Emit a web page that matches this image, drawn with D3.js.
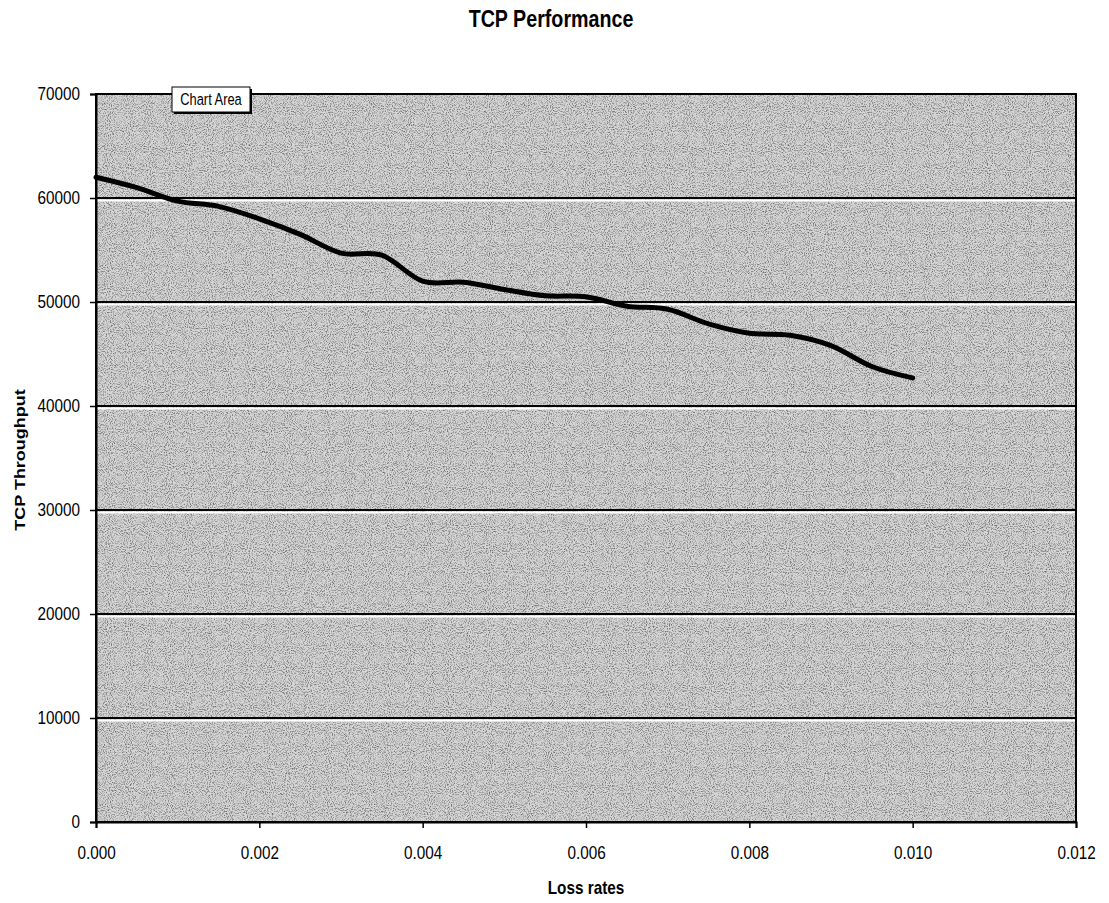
<!DOCTYPE html>
<html>
<head>
<meta charset="utf-8">
<script src="https://cdn.jsdelivr.net/npm/d3@7/dist/d3.min.js"></script>
<style>
  html, body { margin: 0; padding: 0; background: #fff; }
  svg { display: block; }
</style>
</head>
<body>
<svg id="chart" width="1109" height="903"></svg>
<script>
// ---- data ----
const lossRates = [0, 0.0005, 0.001, 0.0015, 0.002, 0.0025, 0.003, 0.0035, 0.004, 0.0045, 0.005,
                   0.0055, 0.006, 0.0065, 0.007, 0.0075, 0.008, 0.0085, 0.009, 0.0095, 0.010];
const throughput = [62000, 61000, 59700, 59200, 58000, 56500, 54700, 54500, 52000, 51900, 51200,
                    50600, 50500, 49600, 49300, 47900, 47000, 46800, 45800, 43800, 42700];
const xTicks = [0, 0.002, 0.004, 0.006, 0.008, 0.010, 0.012];
const yTicks = [0, 10000, 20000, 30000, 40000, 50000, 60000, 70000];
const titleText = "TCP Performance";
const xTitle = "Loss rates";
const yTitle = "TCP Throughput";
const tooltipText = "Chart Area";

// ---- layout ----
const svg = d3.select("#chart");
const L = 96, R = 1076, T = 94, B = 822;
const x = d3.scaleLinear().domain([0, 0.012]).range([L, R]);
const y = d3.scaleLinear().domain([0, 70000]).range([B, T]);
const sans = "'Liberation Sans', Arial, sans-serif";
const SX = 0.85; // horizontal squeeze to mimic a narrow face

// noise texture filter
const defs = svg.append("defs");
const f = defs.append("filter").attr("id", "noise").attr("x", 0).attr("y", 0).attr("width", 1).attr("height", 1);
f.append("feTurbulence").attr("type", "fractalNoise").attr("baseFrequency", 0.95).attr("numOctaves", 2).attr("seed", 3).attr("result", "t");
f.append("feColorMatrix").attr("type", "matrix")
  .attr("values", "0 0 0 0 0  0 0 0 0 0  0 0 0 0 0  0 0 0 -2.6 1.45")
  .attr("result", "a");
f.append("feComposite").attr("in", "a").attr("in2", "SourceGraphic").attr("operator", "in");

// plot background
svg.append("rect").attr("x", L).attr("y", T).attr("width", R - L).attr("height", B - T).attr("fill", "#d6d6d6");
svg.append("rect").attr("x", L).attr("y", T).attr("width", R - L).attr("height", B - T)
  .attr("fill", "#000").attr("filter", "url(#noise)").attr("opacity", 0.5);

// gridlines
const grid = svg.append("g");
yTicks.filter(v => v > 0 && v < 70000).forEach(v => {
  grid.append("line").attr("x1", L).attr("x2", R).attr("y1", y(v) + 2.5).attr("y2", y(v) + 2.5)
    .attr("stroke", "#fff").attr("stroke-width", 2);
  grid.append("line").attr("x1", L).attr("x2", R).attr("y1", y(v)).attr("y2", y(v))
    .attr("stroke", "#000").attr("stroke-width", 2);
});

// border
svg.append("rect").attr("x", L).attr("y", T).attr("width", R - L).attr("height", B - T)
  .attr("fill", "none").attr("stroke", "#000").attr("stroke-width", 2);

// axes
const yAxis = svg.append("g").attr("transform", `translate(${L},0)`)
  .call(d3.axisLeft(y).tickValues(yTicks).tickFormat(d3.format("d")).tickSize(6).tickPadding(10));
const xAxis = svg.append("g").attr("transform", `translate(0,${B})`)
  .call(d3.axisBottom(x).tickValues(xTicks).tickFormat(d3.format(".3f")).tickSize(6).tickPadding(18));
[xAxis, yAxis].forEach(a => {
  a.select(".domain").attr("stroke", "#000").attr("stroke-width", 2);
  a.selectAll(".tick line").attr("stroke", "#000").attr("stroke-width", 1.5);
  a.selectAll(".tick text").attr("fill", "#000").style("font-family", sans).style("font-size", "18px")
    .each(function() {
      const t = d3.select(this);
      const xv = +t.attr("x") || 0;
      t.attr("x", xv / SX).attr("transform", `scale(${SX},1)`);
    });
});

// line
const line = d3.line().x((d, i) => x(lossRates[i])).y(d => y(d)).curve(d3.curveCardinal.tension(0));
svg.append("path").datum(throughput).attr("d", line)
  .attr("fill", "none").attr("stroke", "#000").attr("stroke-width", 5)
  .attr("stroke-linejoin", "round").attr("stroke-linecap", "round");

// chart area tooltip
const tt = svg.append("g");
tt.append("rect").attr("x", 174).attr("y", 89).attr("width", 78).attr("height", 25).attr("fill", "#000");
tt.append("rect").attr("x", 172).attr("y", 87).attr("width", 78).attr("height", 25)
  .attr("fill", "#fff").attr("stroke", "#000").attr("stroke-width", 1);
tt.append("text").attr("transform", "translate(211,105) scale(0.92,1.15)").attr("text-anchor", "middle")
  .style("font-family", sans).style("font-size", "14px").text(tooltipText);

// titles
svg.append("text").attr("transform", "translate(551,27) scale(0.82,1)").attr("text-anchor", "middle")
  .style("font-family", sans).style("font-weight", "bold").style("font-size", "24px").text(titleText);
svg.append("text").attr("transform", "translate(586,894) scale(0.85,1)").attr("text-anchor", "middle")
  .style("font-family", sans).style("font-weight", "bold").style("font-size", "18px").text(xTitle);
svg.append("text").attr("transform", `translate(25,${(T + B) / 2 + 2}) rotate(-90) scale(1.2,1)`).attr("text-anchor", "middle")
  .style("font-family", sans).style("font-weight", "bold").style("font-size", "15px").text(yTitle);
</script>
</body>
</html>
